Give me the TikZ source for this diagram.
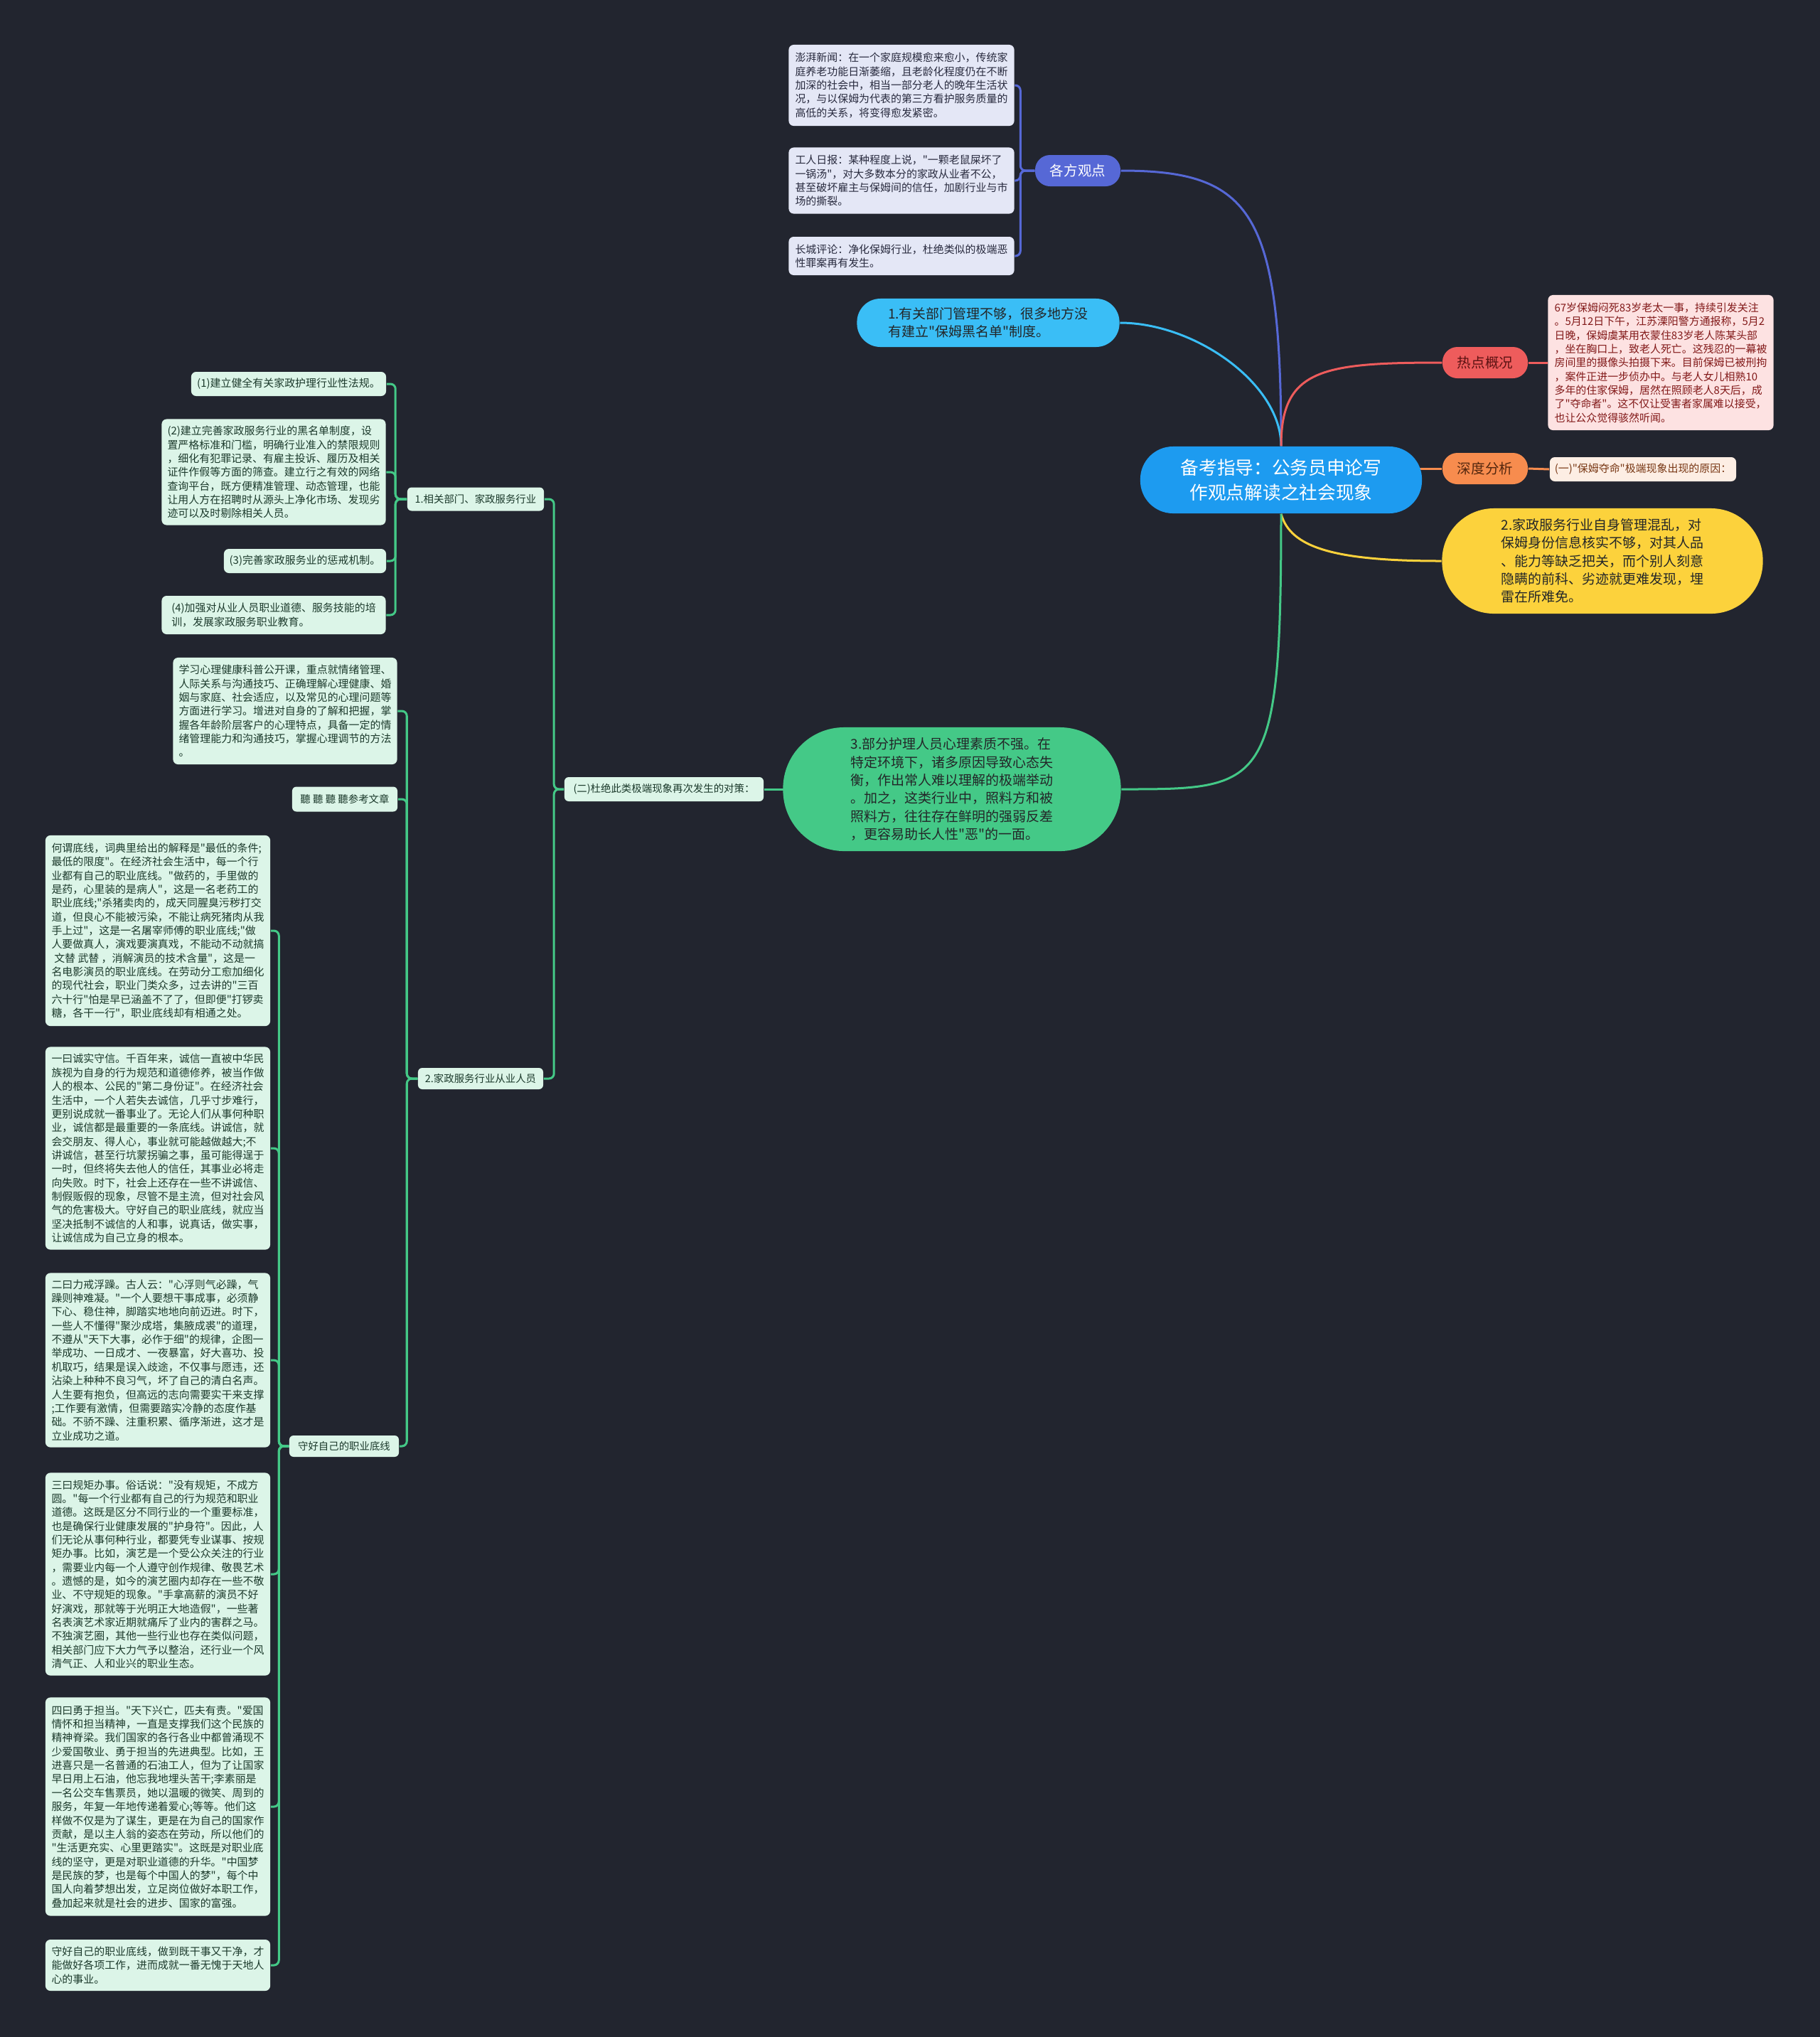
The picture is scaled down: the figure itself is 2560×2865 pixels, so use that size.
\documentclass[tikz,border=0pt]{standalone}
\usepackage{fontspec}
\setmainfont{Noto Sans CJK SC}[Ligatures=TeXOff]
\usepackage{xcolor}
\usepackage{tikz}
\usetikzlibrary{positioning, calc, backgrounds}
\definecolor{cbg}{RGB}{34, 37, 47}
\definecolor{cmain}{RGB}{29, 155, 240}
\definecolor{cindigo}{RGB}{86, 104, 214}
\definecolor{clav}{RGB}{228, 231, 246}
\definecolor{clavt}{RGB}{40, 42, 62}
\definecolor{csky}{RGB}{58, 190, 246}
\definecolor{cred}{RGB}{238, 92, 92}
\definecolor{cpink}{RGB}{253, 226, 226}
\definecolor{cpinkt}{RGB}{130, 25, 25}
\definecolor{corange}{RGB}{247, 140, 78}
\definecolor{cpeach}{RGB}{253, 238, 228}
\definecolor{cpeacht}{RGB}{120, 55, 20}
\definecolor{cyellow}{RGB}{252, 210, 60}
\definecolor{cgreen}{RGB}{68, 201, 135}
\definecolor{cmint}{RGB}{220, 245, 232}
\definecolor{cmintt}{RGB}{28, 58, 44}
\definecolor{cdark}{RGB}{35, 38, 40}

\newcommand{\fnote}{\fontsize{4.25pt}{5.5pt}\selectfont}
\newcommand{\ftag}{\fontsize{4.1pt}{5pt}\selectfont}
\newcommand{\fpill}{\fontsize{5.4pt}{7.2pt}\selectfont}
\newcommand{\flabel}{\fontsize{5.55pt}{6.5pt}\selectfont}
\newcommand{\ftitle}{\fontsize{7.3pt}{10pt}\selectfont}

\tikzset{
  note/.style={rounded corners=0.07cm, align=left, inner sep=0pt, font=\fnote},
  mintnote/.style={note, fill=cmint, text=cmintt},
  lavnote/.style={note, fill=clav, text=clavt},
  tagbox/.style={rounded corners=0.06cm, fill=cmint, text=cmintt, inner sep=0pt, font=\ftag},
  pill/.style={align=left, inner sep=0pt, font=\fpill, text=cdark},
  topic/.style={inner sep=0pt, font=\flabel, rounded corners=0.21cm, minimum width=1.2cm, minimum height=0.44cm},
  link/.style={line width=0.03cm},
  bracket/.style={link, rounded corners=0.07cm},
}

\begin{document}
\begin{tikzpicture}[x=0.01cm, y=-0.01cm]
  \useasboundingbox (0,0) rectangle (2560,2865);

  % centre and main topics
  \node[inner sep=0pt, fill=cmain, text=white, font=\ftitle, align=center, rounded corners=0.46cm,
        minimum width=3.96cm, minimum height=0.94cm] (cen) at (1802,675)
    {备考指导：公务员申论写\\作观点解读之社会现象};
  \node[topic, fill=cindigo, text=white] (gf) at (1516,240) {各方观点};
  \node[topic, fill=cred, text=cpinkt!70!black] (rd) at (2089,510) {热点概况};
  \node[topic, fill=corange, text=cpeacht!70!black] (sd) at (2089,659) {深度分析};

  \node[pill, fill=csky, rounded corners=0.33cm, minimum width=3.69cm, minimum height=0.68cm] (yb) at (1390,454)
    {1.有关部门管理不够，很多地方没\\有建立"保姆黑名单"制度。};
  \node[pill, fill=cyellow, rounded corners=0.73cm, minimum width=4.51cm, minimum height=1.48cm] (yl) at (2254,789)
    {2.家政服务行业自身管理混乱，对\\保姆身份信息核实不够，对其人品\\、能力等缺乏把关，而个别人刻意\\隐瞒的前科、劣迹就更难发现，埋\\雷在所难免。};
  \node[pill, fill=cgreen, rounded corners=0.86cm, minimum width=4.75cm, minimum height=1.74cm] (gr) at (1339,1110)
    {3.部分护理人员心理素质不强。在\\特定环境下，诸多原因导致心态失\\衡，作出常人难以理解的极端举动\\。加之，这类行业中，照料方和被\\照料方，往往存在鲜明的强弱反差\\，更容易助长人性"恶"的一面。};

  % 各方观点
  \node[lavnote, minimum width=3.17cm, minimum height=1.14cm] (gfa) at (1268,120)
    {澎湃新闻：在一个家庭规模愈来愈小，传统家\\庭养老功能日渐萎缩，且老龄化程度仍在不断\\加深的社会中，相当一部分老人的晚年生活状\\况，与以保姆为代表的第三方看护服务质量的\\高低的关系，将变得愈发紧密。};
  \node[lavnote, minimum width=3.17cm, minimum height=0.93cm] (gfb) at (1268,254)
    {工人日报：某种程度上说，"一颗老鼠屎坏了\\一锅汤"，对大多数本分的家政从业者不公，\\甚至破坏雇主与保姆间的信任，加剧行业与市\\场的撕裂。};
  \node[lavnote, minimum width=3.17cm, minimum height=0.54cm] (gfc) at (1268,360)
    {长城评论：净化保姆行业，杜绝类似的极端恶\\性罪案再有发生。};

  % 热点概况 / 深度分析
  \node[note, fill=cpink, text=cpinkt, minimum width=3.17cm, minimum height=1.90cm] (rdn) at (2336,510)
    {67岁保姆闷死83岁老太一事，持续引发关注\\。5月12日下午，江苏溧阳警方通报称，5月2\\日晚，保姆虞某用衣蒙住83岁老人陈某头部\\，坐在胸口上，致老人死亡。这残忍的一幕被\\房间里的摄像头拍摄下来。目前保姆已被刑拘\\，案件正进一步侦办中。与老人女儿相熟10\\多年的住家保姆，居然在照顾老人8天后，成\\了"夺命者"。这不仅让受害者家属难以接受，\\也让公众觉得骇然听闻。};
  \node[note, fill=cpeach, text=cpeacht, minimum width=2.62cm, minimum height=0.34cm] (sdn) at (2311,660)
    {(一)"保姆夺命"极端现象出现的原因：};

  % (二) branch
  \node[tagbox, minimum width=2.80cm, minimum height=0.34cm] (dj) at (934,1110) {(二)杜绝此类极端现象再次发生的对策：};
  \node[tagbox, minimum width=1.92cm, minimum height=0.33cm] (xg) at (669,702) {1.相关部门、家政服务行业};
  \node[tagbox, minimum width=1.76cm, minimum height=0.30cm] (cy) at (676,1517) {2.家政服务行业从业人员};

  \node[mintnote, minimum width=2.74cm, minimum height=0.34cm] (n1) at (406,540)
    {(1)建立健全有关家政护理行业性法规。};
  \node[mintnote, minimum width=3.15cm, minimum height=1.49cm] (n2) at (385,664)
    {(2)建立完善家政服务行业的黑名单制度，设\\置严格标准和门槛，明确行业准入的禁限规则\\，细化有犯罪记录、有雇主投诉、履历及相关\\证件作假等方面的筛查。建立行之有效的网络\\查询平台，既方便精准管理、动态管理，也能\\让用人方在招聘时从源头上净化市场、发现劣\\迹可以及时剔除相关人员。};
  \node[mintnote, minimum width=2.28cm, minimum height=0.34cm] (n3) at (429,789)
    {(3)完善家政服务业的惩戒机制。};
  \node[mintnote, minimum width=3.15cm, minimum height=0.54cm] (n4) at (385,865)
    {(4)加强对从业人员职业道德、服务技能的培\\训，发展家政服务职业教育。};

  \node[mintnote, minimum width=3.15cm, minimum height=1.50cm] (xl) at (401,1000)
    {学习心理健康科普公开课，重点就情绪管理、\\人际关系与沟通技巧、正确理解心理健康、婚\\姻与家庭、社会适应，以及常见的心理问题等\\方面进行学习。增进对自身的了解和把握，掌\\握各年龄阶层客户的心理特点，具备一定的情\\绪管理能力和沟通技巧，掌握心理调节的方法\\。};
  \node[tagbox, minimum width=1.48cm, minimum height=0.35cm] (ck) at (485,1124) {聽 聽 聽 聽参考文章};
  \node[tagbox, minimum width=1.54cm, minimum height=0.30cm] (sh) at (484,2034) {守好自己的职业底线};

  % 守好自己的职业底线
  \node[mintnote, minimum width=3.16cm, minimum height=2.68cm] (p1) at (222,1309)
    {何谓底线，词典里给出的解释是"最低的条件;\\最低的限度"。在经济社会生活中，每一个行\\业都有自己的职业底线。"做药的，手里做的\\是药，心里装的是病人"，这是一名老药工的\\职业底线;"杀猪卖肉的，成天同腥臭污秽打交\\道，但良心不能被污染，不能让病死猪肉从我\\手上过"，这是一名屠宰师傅的职业底线;"做\\人要做真人，演戏要演真戏，不能动不动就搞\\\hspace*{0.25em}文替 武替 ，消解演员的技术含量"，这是一\\名电影演员的职业底线。在劳动分工愈加细化\\的现代社会，职业门类众多，过去讲的"三百\\六十行"怕是早已涵盖不了了，但即便"打锣卖\\糖，各干一行"，职业底线却有相通之处。};
  \node[mintnote, minimum width=3.16cm, minimum height=2.85cm] (p2) at (222,1615)
    {一曰诚实守信。千百年来，诚信一直被中华民\\族视为自身的行为规范和道德修养，被当作做\\人的根本、公民的"第二身份证"。在经济社会\\生活中，一个人若失去诚信，几乎寸步难行，\\更别说成就一番事业了。无论人们从事何种职\\业，诚信都是最重要的一条底线。讲诚信，就\\会交朋友、得人心，事业就可能越做越大;不\\讲诚信，甚至行坑蒙拐骗之事，虽可能得逞于\\一时，但终将失去他人的信任，其事业必将走\\向失败。时下，社会上还存在一些不讲诚信、\\制假贩假的现象，尽管不是主流，但对社会风\\气的危害极大。守好自己的职业底线，就应当\\坚决抵制不诚信的人和事，说真话，做实事，\\让诚信成为自己立身的根本。};
  \node[mintnote, minimum width=3.16cm, minimum height=2.45cm] (p3) at (222,1913)
    {二曰力戒浮躁。古人云："心浮则气必躁，气\\躁则神难凝。"一个人要想干事成事，必须静\\下心、稳住神，脚踏实地地向前迈进。时下，\\一些人不懂得"聚沙成塔，集腋成裘"的道理，\\不遵从"天下大事，必作于细"的规律，企图一\\举成功、一日成才、一夜暴富，好大喜功、投\\机取巧，结果是误入歧途，不仅事与愿违，还\\沾染上种种不良习气，坏了自己的清白名声。\\人生要有抱负，但高远的志向需要实干来支撑\\;工作要有激情，但需要踏实冷静的态度作基\\础。不骄不躁、注重积累、循序渐进，这才是\\立业成功之道。};
  \node[mintnote, minimum width=3.16cm, minimum height=2.85cm] (p4) at (222,2214)
    {三曰规矩办事。俗话说："没有规矩，不成方\\圆。"每一个行业都有自己的行为规范和职业\\道德。这既是区分不同行业的一个重要标准，\\也是确保行业健康发展的"护身符"。因此，人\\们无论从事何种行业，都要凭专业谋事、按规\\矩办事。比如，演艺是一个受公众关注的行业\\，需要业内每一个人遵守创作规律、敬畏艺术\\。遗憾的是，如今的演艺圈内却存在一些不敬\\业、不守规矩的现象。"手拿高薪的演员不好\\好演戏，那就等于光明正大地造假"，一些著\\名表演艺术家近期就痛斥了业内的害群之马。\\不独演艺圈，其他一些行业也存在类似问题，\\相关部门应下大力气予以整治，还行业一个风\\清气正、人和业兴的职业生态。};
  \node[mintnote, minimum width=3.16cm, minimum height=3.07cm] (p5) at (222,2541)
    {四曰勇于担当。"天下兴亡，匹夫有责。"爱国\\情怀和担当精神，一直是支撑我们这个民族的\\精神脊梁。我们国家的各行各业中都曾涌现不\\少爱国敬业、勇于担当的先进典型。比如，王\\进喜只是一名普通的石油工人，但为了让国家\\早日用上石油，他忘我地埋头苦干;李素丽是\\一名公交车售票员，她以温暖的微笑、周到的\\服务，年复一年地传递着爱心;等等。他们这\\样做不仅是为了谋生，更是在为自己的国家作\\贡献，是以主人翁的姿态在劳动，所以他们的\\"生活更充实、心里更踏实"。这既是对职业底\\线的坚守，更是对职业道德的升华。"中国梦\\是民族的梦，也是每个中国人的梦"，每个中\\国人向着梦想出发，立足岗位做好本职工作，\\叠加起来就是社会的进步、国家的富强。};
  \node[mintnote, minimum width=3.16cm, minimum height=0.72cm] (p6) at (222,2764)
    {守好自己的职业底线，做到既干事又干净，才\\能做好各项工作，进而成就一番无愧于天地人\\心的事业。};

  \begin{scope}[on background layer]
    \fill[cbg] (0,0) rectangle (2560,2865);

    % curves from the centre
    \draw[link, cindigo] (cen.north) .. controls +(0,-328) and +(185,0) .. (gf.east);
    \draw[link, csky] (cen.north) .. controls +(0,-88) and +(105,0) .. (yb.east);
    \draw[link, cred] (cen.north) .. controls +(0,-108) and +(-169,0) .. (rd.west);
    \draw[link, corange] (cen.center |- sd.west) -- (sd.west);
    \draw[link, cyellow] (cen.south) .. controls +(13,48) and +(-149,0) .. (yl.west);
    \draw[link, cgreen] (cen.south) .. controls +(0,388) and +(203,0) .. (gr.east);
    \draw[link, cred] (rd.east) -- (rdn.west);
    \draw[link, corange] (sd.east) -- (sdn.west);
    \draw[link, cgreen] (gr.center) -- (dj.east);

    % brackets
    \draw[bracket, cindigo] (gf.west) -- ++(-20,0) |- (gfa.east);
    \draw[bracket, cindigo] (gf.west) -- ++(-20,0) |- (gfb.east);
    \draw[bracket, cindigo] (gf.west) -- ++(-20,0) |- (gfc.east);

    \draw[bracket, cgreen] (dj.west) -- ++(-14,0) |- (xg.east);
    \draw[bracket, cgreen] (dj.west) -- ++(-14,0) |- (cy.east);

    \draw[bracket, cgreen] (xg.west) -- ++(-16,0) |- (n1.east);
    \draw[bracket, cgreen] (xg.west) -- ++(-16,0) |- (n2.east);
    \draw[bracket, cgreen] (xg.west) -- ++(-16,0) |- (n3.east);
    \draw[bracket, cgreen] (xg.west) -- ++(-16,0) |- (n4.east);

    \draw[bracket, cgreen] (cy.west) -- ++(-15,0) |- (xl.east);
    \draw[bracket, cgreen] (cy.west) -- ++(-15,0) |- (ck.east);
    \draw[bracket, cgreen] (cy.west) -- ++(-15,0) |- (sh.east);

    \draw[bracket, cgreen] (sh.west) -- ++(-14,0) |- (p1.east);
    \draw[bracket, cgreen] (sh.west) -- ++(-14,0) |- (p2.east);
    \draw[bracket, cgreen] (sh.west) -- ++(-14,0) |- (p3.east);
    \draw[bracket, cgreen] (sh.west) -- ++(-14,0) |- (p4.east);
    \draw[bracket, cgreen] (sh.west) -- ++(-14,0) |- (p5.east);
    \draw[bracket, cgreen] (sh.west) -- ++(-14,0) |- (p6.east);
  \end{scope}
\end{tikzpicture}
\end{document}
